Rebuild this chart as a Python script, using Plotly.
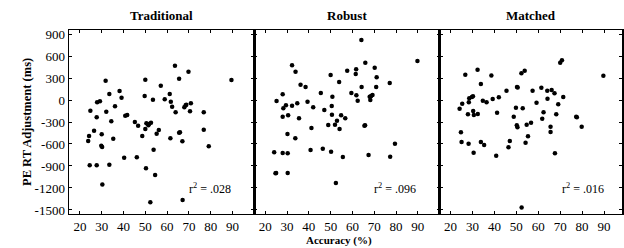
import plotly.graph_objects as go

# ---- data ----
acc_trad = [23.8, 24.2, 24.8, 24.5, 26.5, 27.7, 27.9, 29.2, 27.7, 30.0, 29.8, 30.2, 30.3,
            31.8, 32.1, 33.5, 33.5, 34.4, 35.3, 36.1, 38.2, 39.1, 40.3, 40.8, 41.7, 45.2,
            46.7, 46.1, 48.6, 49.7, 50.0, 50.0, 50.3, 50.5, 51.4, 51.7, 52.6, 52.3, 53.5,
            53.8, 54.5, 55.2, 56.2, 57.1, 58.9, 61.2, 61.5, 61.7, 62.3, 63.6, 63.9, 65.5,
            65.5, 65.9, 67.0, 67.1, 67.9, 68.5, 68.8, 69.8, 70.5, 70.9, 76.8, 76.8, 79.1, 89.5]
rt_trad = [-559, -491, -145, -891, -418, -236, -32, -18, -891, -468, -623, -641, -1154,
           264, -159, 82, -882, -291, -527, -86, 123, 32, -786, -214, -205, -300,
           -350, -782, -491, 55, 277, -395, -932, -318, -345, -327, -309, -1395, 5,
           -677, -1023, -459, -409, 195, 9, 82, -523, -23, -91, 468, -168, 291,
           -445, -440, -564, -1364, -100, -73, -64, 386, -155, -45, -168, -405, -632, 273]

acc_rob = [24.1, 24.7, 25.0, 25.2, 28.0, 28.0, 28.3, 28.0, 29.5, 30.3, 30.3, 30.5, 30.2,
           32.3, 32.3, 33.9, 33.8, 34.7, 35.5, 36.2, 38.5, 39.4, 40.8, 41.2, 42.0, 45.5,
           46.4, 47.1, 48.9, 50.0, 50.2, 50.5, 50.8, 50.6, 52.0, 52.9, 52.4, 54.1, 53.9,
           54.8, 55.6, 56.7, 57.6, 59.5, 61.5, 61.7, 61.8, 62.4, 64.1, 64.2, 65.5, 65.8,
           65.9, 67.4, 67.9, 68.2, 68.6, 69.2, 70.2, 70.9, 71.1, 77.1, 77.3, 79.5, 89.8]
rt_rob = [-714, -1000, -995, -14, 77, -723, -114, -227, -73, -727, -995, -209, -464,
          473, -77, 386, -523, -45, -250, 209, 177, -23, -682, -382, -100, 95,
          -664, -136, -341, 341, -705, -82, 45, -200, -336, -282, -1132, -395, 245,
          -209, -777, -250, 400, 95, 355, 418, 64, -9, 818, 177, -350, -345,
          509, -750, 45, 0, 55, 68, 441, 177, 309, 232, -773, -595, 532]

acc_match = [24.1, 24.7, 25.0, 25.3, 26.7, 27.9, 28.2, 28.3, 28.5, 29.7, 30.2, 30.3, 30.5,
             30.6, 32.3, 32.4, 33.8, 33.8, 34.7, 35.3, 36.4, 38.6, 39.2, 40.8, 41.2, 42.0,
             45.5, 46.4, 47.0, 48.8, 49.8, 50.3, 50.6, 50.2, 50.5, 52.3, 52.4, 52.9, 53.8,
             54.2, 54.7, 55.3, 56.7, 57.4, 59.2, 61.4, 61.8, 62.4, 64.1, 64.2, 65.6, 65.6,
             66.1, 67.4, 67.6, 68.2, 69.1, 70.0, 70.8, 71.4, 77.3, 77.6, 79.8, 89.7]
rt_match = [-118, -441, -573, -50, 345, -195, -595, -32, 23, 41, 50, -150, -718,
            -205, 414, -191, 218, -573, -9, -614, -32, 336, 14, -759, -173, 36,
            127, -645, -559, -227, -105, 177, 170, -345, -373, 364, -1468, -114, 400,
            -582, -336, -495, -309, 127, -36, 168, -255, -168, 127, 18, -436, -364,
            136, 91, -727, -195, -59, 509, 541, 41, -227, -235, -364, 332]

panel_titles = ["Traditional", "Robust", "Matched"]
r2_labels = [".028", ".096", ".016"]
x_ticks = [20, 30, 40, 50, 60, 70, 80, 90]
y_ticks = [900, 600, 300, 0, -300, -600, -900, -1200, -1500]
y_ticktext = ["900", "600", "300", "0", "-300", "-600", "-900", "-1200", "-1500"]

# ---- layout geometry ----
W, H = 624, 248
ML, MR, MT, MB = 69, 0, 30, 34
PW = W - ML - MR
b1 = 186 / PW
b2 = 372 / PW
domains = [[0, b1], [b1, b2], [b2, 1]]
x_ranges = [[15, 100], [15, 100], [15, 98.2]]
y_range = [-1555, 955]

FONT = '"Liberation Serif", "Times New Roman", Times, serif'

fig = go.Figure()
series = [(acc_trad, rt_trad), (acc_rob, rt_rob), (acc_match, rt_match)]
for i, (xs, ys) in enumerate(series):
    sfx = "" if i == 0 else str(i + 1)
    fig.add_trace(go.Scatter(
        x=xs, y=ys, mode="markers",
        marker=dict(color="black", size=4.5),
        xaxis="x" + sfx, yaxis="y" + sfx, showlegend=False, hoverinfo="skip"))

layout = dict(
    width=W, height=H,
    margin=dict(l=ML, r=MR, t=MT, b=MB),
    paper_bgcolor="white", plot_bgcolor="white",
    font=dict(family=FONT, color="black", size=13),
    showlegend=False,
)
for i in range(3):
    sfx = "" if i == 0 else str(i + 1)
    layout["xaxis" + sfx] = dict(
        domain=domains[i], range=x_ranges[i], anchor="y" + sfx,
        tickvals=x_ticks, ticks="inside", ticklen=3, tickcolor="black",
        showline=True, linecolor="black", linewidth=1.2, mirror="ticks",
        showgrid=False, zeroline=False,
        tickfont=dict(family=FONT, size=13, color="black"),
    )
    yax = dict(
        domain=[0, 1], range=y_range, anchor="x" + sfx,
        tickvals=y_ticks, ticks="inside", ticklen=3, tickcolor="black",
        showline=True, linecolor="black", linewidth=1.5, mirror="ticks",
        showgrid=False, zeroline=False,
        tickfont=dict(family=FONT, size=13, color="black"),
    )
    if i == 0:
        yax["ticktext"] = y_ticktext
    else:
        yax["showticklabels"] = False
    layout["yaxis" + sfx] = yax
fig.update_layout(**layout)

annotations = []
for i in range(3):
    sfx = "" if i == 0 else str(i + 1)
    annotations.append(dict(
        text="<b>%s</b>" % panel_titles[i], xref="x%s domain" % sfx, yref="paper",
        x=0.5, y=1, yshift=15, showarrow=False,
        font=dict(family=FONT, size=13, color="black"), yanchor="middle"))
    annotations.append(dict(
        text="r<sup>2</sup> = %s" % r2_labels[i], xref="x" + sfx, yref="y" + sfx,
        x=79.5 if i < 2 else 80.5, y=-1205, showarrow=False,
        font=dict(family=FONT, size=12, color="black")))
annotations.append(dict(
    text="<b>PE RT Adjustment (ms)</b>", xref="paper", yref="paper",
    x=0, xshift=-51, y=0.5, textangle=-90, showarrow=False,
    font=dict(family=FONT, size=12.5, color="black")))
annotations.append(dict(
    text="<b>Accuracy (%)</b>", xref="x2", yref="paper",
    x=54, y=0, yshift=-26, showarrow=False,
    font=dict(family=FONT, size=11, color="black"), yanchor="middle"))
fig.update_layout(annotations=annotations)

fig.write_html("out.html",
               config={"displayModeBar": False, "staticPlot": True},
               post_script="document.body.style.margin='0';document.body.style.overflow='hidden';")
